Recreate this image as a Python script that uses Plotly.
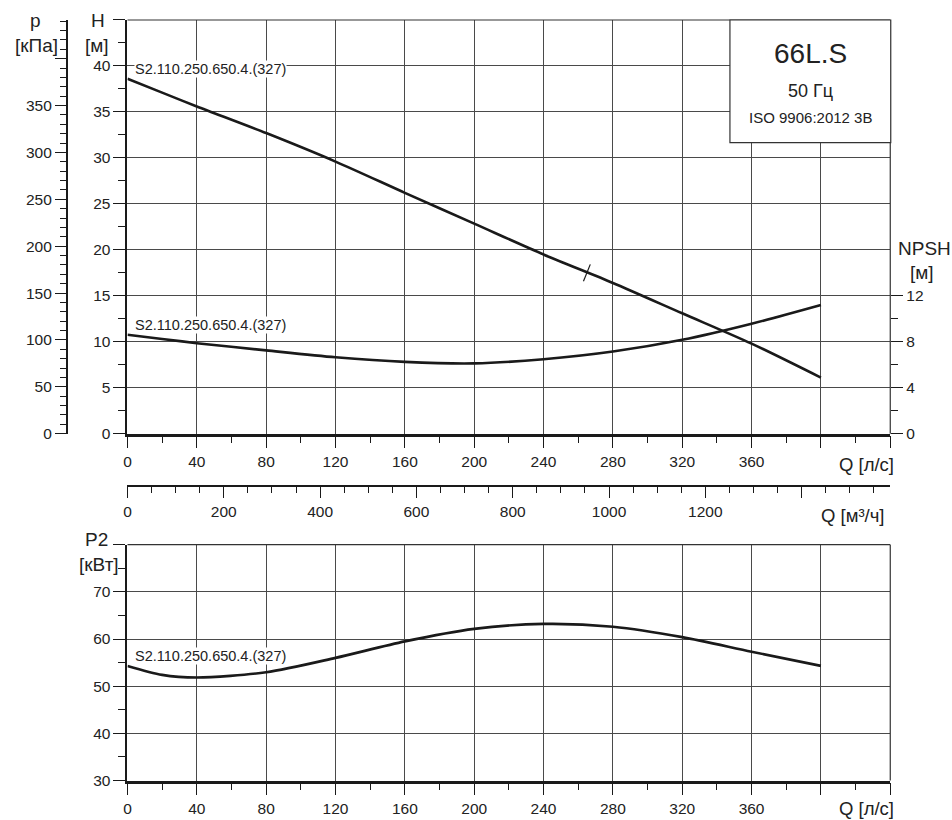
import plotly.graph_objects as go

# canvas size in px, used to place things in paper coords
W, HT = 952, 820
# the photographed page comes out about 1% shorter than HT, so vertical
# placement is computed against this effective height
HT_EFF = 812.5

# flow (l/s) and curve values
q = [0, 20, 40, 80, 120, 160, 200, 240, 280, 320, 360, 400]
head = [38.6, 37.1, 35.6, 32.7, 29.6, 26.2, 22.85, 19.5, 16.4, 13.1, 9.8, 6.1]
npsh = [8.62, 8.25, 7.88, 7.25, 6.65, 6.25, 6.12, 6.48, 7.15, 8.17, 9.57, 11.2]
p2 = [54.3, 52.4, 51.85, 52.95, 56.0, 59.5, 62.15, 63.2, 62.6, 60.4, 57.3, 54.3]

# best efficiency point mark on the head curve
bep_q = [265]
bep_h = [17.5]

pump_name = "S2.110.250.650.4.(327)"

# tick values / labels
q_ticks = list(range(0, 441, 40))
q_labels = [str(v) for v in q_ticks[:-2]] + ["", ""]
q_minor = list(range(20, 440, 40))

h_ticks = list(range(0, 46, 5))
h_labels = [str(v) for v in h_ticks[:-1]] + [""]
h_minor = [v + 2.5 for v in range(0, 45, 5)]

kpa_ticks = list(range(0, 401, 50))
kpa_labels = [str(v) for v in kpa_ticks[:-1]] + [""]
kpa_minor = [v for v in range(10, 441, 10) if v % 50]

npsh_ticks = [0, 4, 8, 12]
npsh_minor = [2, 6, 10]

m3h_ticks = list(range(0, 1401, 200))
m3h_labels = [str(v) for v in m3h_ticks[:-1]] + [""]
m3h_minor = [v for v in range(50, 1584, 50) if v % 200]

p2_ticks = list(range(30, 81, 10))
p2_labels = [str(v) for v in p2_ticks[:-1]] + [""]
p2_minor = list(range(35, 80, 10))

KPA_PER_M = 9.807
H_MAX = 45

FONT = "Liberation Sans, Arial, sans-serif"
INK = "#1a1a1a"
GRID = "#4a4a4a"


def px_x(px):
    return px / W


def px_y(py):
    return 1 - py / HT_EFF


x_dom = [px_x(124), px_x(890)]
top_dom = [px_y(434), px_y(20)]
bot_dom = [px_y(781), px_y(545)]

curve = dict(color=INK, width=2.6, shape="spline", smoothing=0.8)

fig = go.Figure()
fig.add_trace(go.Scatter(x=q, y=head, mode="lines", line=curve, xaxis="x", yaxis="y"))
fig.add_trace(go.Scatter(x=q, y=npsh, mode="lines", line=curve, xaxis="x", yaxis="y2"))
fig.add_trace(go.Scatter(x=q, y=p2, mode="lines", line=curve, xaxis="x2", yaxis="y4"))
fig.add_trace(go.Scatter(
    x=bep_q, y=bep_h, mode="markers", xaxis="x", yaxis="y",
    marker=dict(symbol="line-ns", size=13, angle=22, line=dict(color=INK, width=1.2)),
))
# placeholder traces so the extra scales get drawn
fig.add_trace(go.Scatter(x=[0], y=[0], mode="lines", xaxis="x3", yaxis="y"))
fig.add_trace(go.Scatter(x=[0], y=[0], mode="lines", xaxis="x", yaxis="y3"))

tickfont = dict(family=FONT, size=15.5, color="#222")


def base_axis(**kw):
    d = dict(
        ticks="outside", ticklen=12, tickwidth=1.4, tickcolor=INK,
        showline=True, linecolor=INK, zeroline=False,
        tickfont=tickfont, tickmode="array", fixedrange=True,
    )
    d.update(kw)
    return d


def minor(vals, length=6):
    return dict(tickmode="array", tickvals=vals, ticks="outside", ticklen=length,
                tickwidth=1.2, tickcolor=INK, showgrid=False)


fig.update_layout(
    width=W, height=HT, autosize=False,
    margin=dict(l=0, r=0, t=0, b=0),
    paper_bgcolor="white", plot_bgcolor="white",
    showlegend=False, hovermode=False,
    font=dict(family=FONT, color="#222"),
    xaxis=base_axis(domain=x_dom, anchor="y", range=[0, 440],
                    tickvals=q_ticks, ticktext=q_labels, minor=minor(q_minor, 7),
                    showgrid=True, gridcolor=GRID, gridwidth=1, linewidth=2.5),
    yaxis=base_axis(domain=top_dom, anchor="x", range=[0, H_MAX],
                    tickvals=h_ticks, ticktext=h_labels, minor=minor(h_minor, 7),
                    showgrid=True, gridcolor=GRID, gridwidth=1, linewidth=2),
    yaxis2=base_axis(overlaying="y", side="right", anchor="x", range=[0, H_MAX * 0.8],
                     tickvals=npsh_ticks, ticktext=[str(v) for v in npsh_ticks],
                     minor=minor(npsh_minor, 7), showgrid=False, showline=False),
    yaxis3=base_axis(overlaying="y", side="left", anchor="free", position=px_x(63),
                     range=[0, H_MAX * KPA_PER_M], tickvals=kpa_ticks, ticktext=kpa_labels,
                     minor=minor(kpa_minor, 6), ticklen=11, showgrid=False, linewidth=1.6),
    xaxis3=base_axis(overlaying="x", side="bottom", anchor="free", position=px_y(486),
                     range=[0, 440 * 3.6], tickvals=m3h_ticks, ticktext=m3h_labels,
                     minor=minor(m3h_minor, 7), showgrid=False, linewidth=1.5),
    xaxis2=base_axis(domain=x_dom, anchor="y4", range=[0, 440],
                     tickvals=q_ticks, ticktext=q_labels, minor=minor(q_minor, 7),
                     showgrid=True, gridcolor=GRID, gridwidth=1, linewidth=2.5),
    yaxis4=base_axis(domain=bot_dom, anchor="x2", range=[30, 80],
                     tickvals=p2_ticks, ticktext=p2_labels, minor=minor(p2_minor, 7),
                     showgrid=True, gridcolor=GRID, gridwidth=1, linewidth=2),
)

# top / right frame lines of both panels
for xr, yr in [("x", "y"), ("x2", "y4")]:
    fig.add_shape(type="line", xref=f"{xr} domain", yref=f"{yr} domain",
                  x0=0, x1=1, y0=1, y1=1, line=dict(color="#333", width=1.2))
    fig.add_shape(type="line", xref=f"{xr} domain", yref=f"{yr} domain",
                  x0=1, x1=1, y0=0, y1=1, line=dict(color="#333", width=1.2))

# title block
fig.add_shape(type="rect", xref="paper", yref="paper",
              x0=px_x(729), x1=px_x(890.5), y0=px_y(142.7), y1=px_y(20),
              fillcolor="white", line=dict(color="#333", width=1.2))

annots = [
    ("66L.S", 810, 54, 28),
    ("50 Гц", 810, 91, 18),
    ("ISO 9906:2012 3В", 810, 118, 15),
    ("p", 32, 21, 19),
    ("[кПа]", 33, 46, 19),
    ("H", 94, 21, 19),
    ("[м]", 93, 46, 19),
    ("NPSH", 924, 249, 19),
    ("[м]", 922, 273, 19),
    ("Q [л/с]", 866, 465, 18.5),
    ("Q [м³/ч]", 852, 516, 18.5),
    ("P2", 93, 540, 19),
    ("[кВт]", 95, 565, 19),
    ("Q [л/с]", 866, 809, 18.5),
]
for text, x, y, size in annots:
    fig.add_annotation(text=text, xref="paper", yref="paper", x=px_x(x), y=px_y(y),
                       xanchor="center", yanchor="middle", showarrow=False,
                       font=dict(family=FONT, size=size, color="#222"))

# curve names
for xr, yr, yv in [("x", "y", 39.7), ("x", "y", 11.85), ("x2", "y4", 56.3)]:
    fig.add_annotation(text=pump_name, xref=xr, yref=yr, x=3.5, y=yv,
                       xanchor="left", yanchor="middle", showarrow=False,
                       bgcolor="white", borderpad=0,
                       font=dict(family=FONT, size=14.5, color="#222"))

# pin the figure to the window corner, no page margin or scrolling
page_css = (
    "document.documentElement.style.margin='0';"
    "document.documentElement.style.overflow='hidden';"
    "document.body.style.margin='0';"
    "document.body.style.overflow='hidden';"
)
fig.write_html("out.html", post_script=page_css,
               config={"displayModeBar": False, "responsive": False})
